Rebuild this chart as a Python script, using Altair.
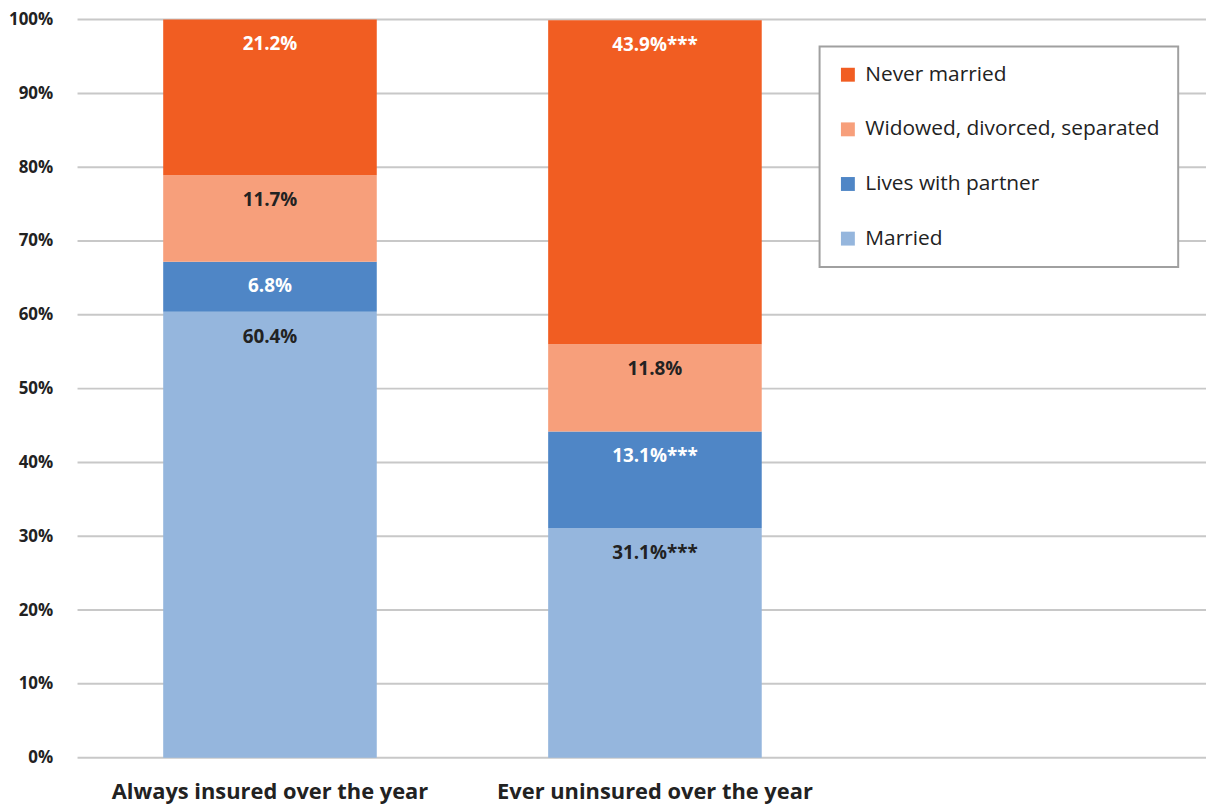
import altair as alt
import pandas as pd

groups = ["Always insured over the year", "Ever uninsured over the year"]
categories = ["Married", "Lives with partner", "Widowed, divorced, separated", "Never married"]
legend_order = ["Never married", "Widowed, divorced, separated", "Lives with partner", "Married"]
colors = ["#F15D22", "#F79F7B", "#4F86C6", "#95B6DD"]
always_vals = [60.4, 6.8, 11.7, 21.2]
ever_vals = [31.1, 13.1, 11.8, 43.9]
always_sig = ["", "", "", ""]
ever_sig = ["***", "***", "", "***"]
y_ticks = [0, 10, 20, 30, 40, 50, 60, 70, 80, 90, 100]

rows = []
for g, vals, sig in [(groups[0], always_vals, always_sig), (groups[1], ever_vals, ever_sig)]:
    for i, (c, v, s) in enumerate(zip(categories, vals, sig)):
        rows.append({"group": g, "cat": c, "value": v, "order": i, "label": f"{v:.1f}%{s}"})
df = pd.DataFrame(rows)
ticks_df = pd.DataFrame({"tick": y_ticks})

FONT = "Open Sans"
W, H = 1136, 743

y_scale = alt.Scale(domain=[0, 100], clamp=True, nice=False)

grid = alt.Chart(ticks_df).mark_rule(color="#C8C8C8", strokeWidth=2).encode(
    y=alt.Y("tick:Q", scale=y_scale, title=None,
            axis=alt.Axis(values=y_ticks, labelExpr="datum.value + '%'", labelFontSize=17,
                          labelFontWeight="bold", labelColor="#222222", labelPadding=25,
                          ticks=False, domain=False, grid=False, labelFont=FONT)),
    x=alt.value(0),
    x2=alt.value(W),
)

base = alt.Chart(df).transform_stack(
    stack="value", groupby=["group"], sort=[alt.SortField("order", "ascending")], as_=["y0", "y1"]
)

x_enc = alt.X("group:N", sort=groups, title=None,
              scale=alt.Scale(range=[86, 689], paddingInner=0.444, paddingOuter=0),
              axis=alt.Axis(labelFontSize=22, labelFontWeight="bold", labelColor="#222222",
                            labelPadding=24, ticks=False, domain=False, labelFont=FONT,
                            labelAngle=0, labelLimit=0))

bars = base.mark_bar(size=215).encode(
    x=x_enc,
    y=alt.Y("y0:Q", scale=y_scale),
    y2="y1:Q",
    color=alt.Color("cat:N", scale=alt.Scale(domain=legend_order, range=colors),
                    legend=alt.Legend(title=None, orient="none", legendX=747, legendY=27,
                                      symbolType="square", symbolSize=196, symbolStrokeWidth=0,
                                      labelFontSize=21, labelColor="#222222", labelFont=FONT,
                                      rowPadding=33, padding=18, fillColor="white",
                                      strokeColor="#A0A0A0", labelLimit=0,
                                      labelOffset=7, symbolOffset=0)),
)

texts = base.mark_text(dy=25, fontSize=19, fontWeight="bold", font=FONT, baseline="middle").encode(
    x=alt.X("group:N", sort=groups),
    y=alt.Y("y1:Q", scale=y_scale),
    text="label:N",
    color=alt.condition(
        "datum.cat == 'Never married' || datum.cat == 'Lives with partner'",
        alt.value("white"), alt.value("#222222")),
)

chart = alt.layer(grid, bars, texts).properties(
    width=W, height=H,
    autosize=alt.AutoSizeParams(type="none"),
    padding={"left": 70, "top": 9, "right": 0, "bottom": 46},
).configure_view(stroke=None).configure_legend(strokeWidth=2)

chart.save("out.html", embed_options={"renderer": "svg", "actions": False})
